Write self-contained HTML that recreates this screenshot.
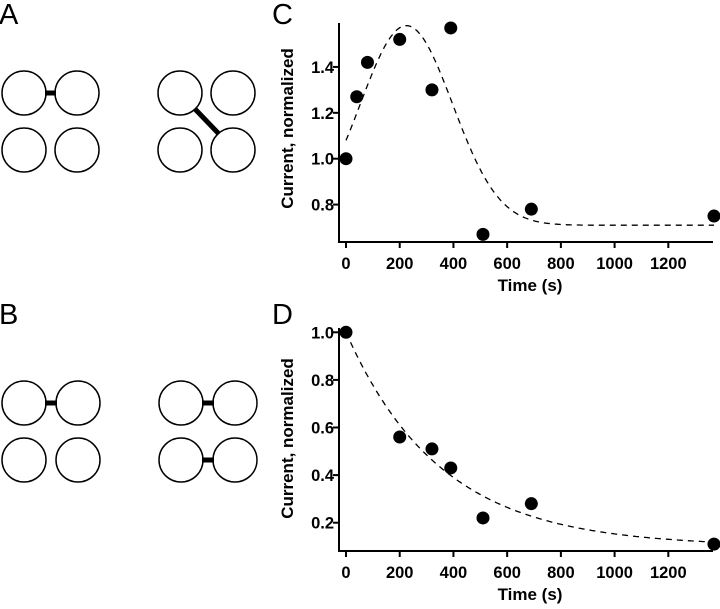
<!DOCTYPE html>
<html><head><meta charset="utf-8"><style>
body{margin:0;background:#fff;width:720px;height:604px;overflow:hidden}
svg text{font-family:"Liberation Sans",Arial,sans-serif}
</style></head><body>
<svg id="fig" width="720" height="604" viewBox="0 0 720 604">
<g>
<text x="-1" y="24" font-size="29">A</text>
<g fill="none" stroke="#000" stroke-width="1.5">
<circle cx="24" cy="93" r="22"/><circle cx="77" cy="93" r="22"/><circle cx="24" cy="150" r="22"/><circle cx="77" cy="150" r="22"/>
<circle cx="180" cy="93" r="22"/><circle cx="233" cy="93" r="22"/><circle cx="180" cy="150" r="22"/><circle cx="233" cy="150" r="22"/>
</g>
<rect x="45" y="90.5" width="11" height="5" fill="#000"/>
<line x1="195" y1="109" x2="219" y2="134" stroke="#000" stroke-width="5"/>
</g>
<g>
<text x="-1" y="324" font-size="29">B</text>
<g fill="none" stroke="#000" stroke-width="1.5">
<circle cx="24" cy="403" r="22"/><circle cx="78" cy="403" r="22"/><circle cx="24" cy="460" r="22"/><circle cx="78" cy="460" r="22"/>
<circle cx="181" cy="403" r="22"/><circle cx="235" cy="403" r="22"/><circle cx="181" cy="460" r="22"/><circle cx="235" cy="460" r="22"/>
</g>
<rect x="45" y="400.5" width="12" height="5" fill="#000"/>
<rect x="202" y="400.5" width="12" height="5" fill="#000"/>
<rect x="202" y="457.5" width="12" height="5" fill="#000"/>
</g>
<text x="272" y="24" font-size="29">C</text>
<text x="272" y="324" font-size="29">D</text>
<g id="chartC"></g>
<g id="chartD"></g>
</svg>
<script>
const xTicks = [0,200,400,600,800,1000,1200];
const cTimes = [0,40,80,200,320,390,510,690,1370];
const cValues = [1.0,1.27,1.42,1.52,1.30,1.57,0.67,0.78,0.75];
const cTicks = [0.8,1.0,1.2,1.4];
const cFit = {base:0.71, amp:0.87, center:225, sigma:172};
const dTimes = [0,200,320,390,510,690,1370];
const dValues = [1.0,0.56,0.51,0.43,0.22,0.28,0.11];
const dTicks = [0.2,0.4,0.6,0.8,1.0];
const dFit = {base:0.10, amp:0.90, tau:353};
const NS="http://www.w3.org/2000/svg";
function mk(tag,attrs,parent){const e=document.createElementNS(NS,tag);for(const k in attrs)e.setAttribute(k,attrs[k]);parent.appendChild(e);return e;}
function draw(g,o){
  const X=v=>346+v*0.2686;
  const Y=v=>o.y1px+(v-o.y1)*o.pxPerUnit*-1;
  const ax=mk('path',{d:`M339 ${o.top}V${o.bottom}H713`,fill:'none',stroke:'#000','stroke-width':2},g);
  
  
  xTicks.forEach(t=>{
    mk('line',{x1:X(t),x2:X(t),y1:o.bottom,y2:o.bottom+6,stroke:'#000','stroke-width':2},g);
    const tx=mk('text',{x:X(t),y:o.bottom+27,'font-size':16.5,'font-weight':'bold','text-anchor':'middle'},g);
    tx.textContent=t;
    
    
  });
  o.ticks.forEach(t=>{
    mk('line',{x1:333,x2:339,y1:Y(t),y2:Y(t),stroke:'#000','stroke-width':2},g);
    const tx=mk('text',{x:334,y:Y(t)+6,'font-size':16.5,'font-weight':'bold','text-anchor':'end'},g);
    tx.textContent=t.toFixed(1);
    
    
  });
  const xt=mk('text',{x:530,y:o.bottom+49,'font-size':17,'font-weight':'bold','text-anchor':'middle'},g);
  xt.textContent='Time (s)';
  
  
  const cy=(o.top+o.bottom)/2 + o.titleShift;
  const yt=mk('text',{x:0,y:0,'font-size':17,'font-weight':'bold','text-anchor':'middle',transform:`translate(293 ${cy}) rotate(-90)`},g);
  yt.textContent='Current, normalized';
  
  
  let d='';
  for(let t=o.fitStart;t<=1370;t+=5){d+=(d?'L':'M')+X(t).toFixed(1)+' '+Y(o.fit(t)).toFixed(1);}
  const fp=mk('path',{d:d,fill:'none',stroke:'#000','stroke-width':1.3,'stroke-dasharray':'6 5'},g);
  
  
  o.xs.forEach((t,i)=>{
    const c=mk('circle',{cx:X(t),cy:Y(o.ys[i]),r:6.5,fill:'#000'},g);
    
    
  });
}
draw(document.getElementById('chartC'),{top:23,bottom:242,y1:1.0,y1px:158.7,pxPerUnit:229.4,ticks:cTicks,xs:cTimes,ys:cValues,fitStart:0,titleShift:-4,
  fit:t=>cFit.base+cFit.amp*Math.exp(-((t-cFit.center)**2)/(2*cFit.sigma**2))});
draw(document.getElementById('chartD'),{top:328,bottom:551,y1:1.0,y1px:332.3,pxPerUnit:238,ticks:dTicks,xs:dTimes,ys:dValues,fitStart:0,titleShift:-1,
  fit:t=>dFit.base+dFit.amp*Math.exp(-t/dFit.tau)});
</script>
</body></html>
